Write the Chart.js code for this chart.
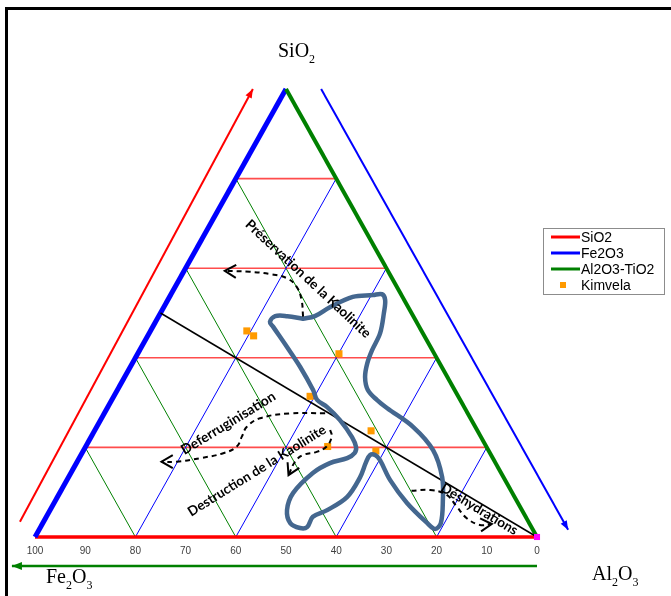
<!DOCTYPE html>
<html><head><meta charset="utf-8">
<style>html,body{margin:0;padding:0;background:#fff;overflow:hidden}</style>
<script src="https://cdn.jsdelivr.net/npm/chart.js@4.4.1/dist/chart.umd.min.js"></script>
</head><body>
<canvas id="c" width="671" height="596"></canvas>
<script>
// ---------------- DATA ----------------
const bottomTicks = [0, 10, 20, 30, 40, 50, 60, 70, 80, 90, 100];
const gridLevels = [20, 40, 60, 80];
// Kimvela samples (ternary %, SiO2 and Fe2O3; Al2O3 = remainder)
const kimvelaSiO2  = [46.0, 44.9, 40.9, 31.4, 23.7, 20.2, 19.2];
const kimvelaFe2O3 = [34.8, 34.0, 19.0, 29.5, 21.2, 31.6, 22.5];
// reference point at the Al2O3 apex
const apexSiO2 = [0];
const apexFe2O3 = [0];
// kaolinite line: from SiO2/Fe2O3 side midpoint to Al2O3 apex
const kaolLineSiO2 = [50, 0];
const kaolLineFe2O3 = [50, 0];
// envelope (closed contour)
const envelopeSiO2 = [48.7,49.3,51.3,53.6,54.0,54.2,52.9,50.0,45.5,41.7,38.8,35.7,32.8,30.6,28.8,24.6,19.4,13.4,8.3,3.1,1.8,3.1,7.6,12.7,17.2,18.3,18.3,16.7,13.2,8.9,6.0,4.5,2.2,2.0,3.1,6.0,9.8,14.3,16.5,17.6,18.8,20.1,22.3,26.1,29.0,30.6,32.8,38.0,42.4,46.9,48.0,49.3,49.3,48.7];
const envelopeFe2O3 = [22.3,19.6,15.6,9.9,5.7,3.8,3.8,5.5,8.5,12.0,14.4,16.4,17.3,16.6,15.5,12.4,11.0,12.2,14.6,17.6,19.4,20.3,22.1,22.9,22.7,23.1,24.1,25.7,28.7,33.4,38.8,42.4,44.7,46.2,47.6,46.8,43.7,37.5,33.0,29.0,26.9,26.0,25.7,26.2,27.3,28.5,28.2,28.2,28.6,29.1,29.2,27.5,25.1,22.3];
// outer axis arrows (bottom-axis value, SiO2 value)
const arrowSiO2X = [103.0, 56.6], arrowSiO2Y = [3.4, 100];
const arrowFe2O3X = [43.0, -6.2], arrowFe2O3Y = [100, 1.6];
const arrowAl2O3X = [0, 104.6], arrowAl2O3Y = [-6.5, -6.5];
// process arrows (bottom-axis value, SiO2 value)
const preservX = [46.6,46.9,47.9,49.9,53.2,57.2,62.2];
const preservY = [49.2,52.9,55.9,57.8,58.7,59.2,59.4];
const deferX = [42.2,49.2,55.2,57.8,58.8,59.8,62.5,67.1,71.8,74.8];
const deferY = [27.6,27.6,26.5,24.6,22.4,20.2,18.7,17.6,16.8,16.8];
const destrX = [41.2,40.9,41.9,43.9,46.6,48.2,49.5];
const destrY = [23.9,22.4,20.2,19.0,18.3,16.8,13.8];
const deshyX = [25.0,21.3,18.0,16.0,14.0,11.4,9.0];
const deshyY = [10.3,10.5,9.4,6.8,4.2,2.7,2.9];
const annotationTexts = ['Préservation de la Kaolinite', 'Deferruginisation', 'Destruction de la Kaolinite', 'Déshydrations'];
const legendLabels = ['SiO2', 'Fe2O3', 'Al2O3-TiO2', 'Kimvela'];

// ---------------- HELPERS ----------------
const tern = (s, f) => ({x: f + s / 2, y: s});
const ternPts = (S, F) => S.map((s, i) => tern(s, F[i]));
const xyPts = (X, Y) => X.map((x, i) => ({x, y: Y[i]}));

const RED = '#FF0000', BLUE = '#0000FF', GREEN = '#008000';
const ds = [];
function line(data, color, width, extra) {
  ds.push(Object.assign({data, showLine: true, borderColor: color, backgroundColor: color,
    borderWidth: width, pointRadius: 0, clip: false, tension: 0}, extra || {}));
}
// grid lines
gridLevels.forEach(L => {
  line([tern(L, 100 - L), tern(L, 0)], 'rgba(255,0,0,0.7)', 1.6);
  line([tern(0, L), tern(L, 0)], BLUE, 1);
  line([tern(0, L), tern(100 - L, L)], GREEN, 1);
});
// triangle edges
line([tern(0, 100), tern(0, 0)], RED, 3.5, {legendLabel: legendLabels[0]});
line([tern(0, 100), tern(100, 0)], BLUE, 5, {legendLabel: legendLabels[1]});
line([tern(100, 0), tern(0, 0)], GREEN, 4, {legendLabel: legendLabels[2]});
// kaolinite line
line(ternPts(kaolLineSiO2, kaolLineFe2O3), '#000', 1.5);
// outer arrows
line(xyPts(arrowSiO2X, arrowSiO2Y), RED, 2, {arrow: 'filled', headLen: 9, headW: 3.5});
line(xyPts(arrowFe2O3X, arrowFe2O3Y), BLUE, 2, {arrow: 'filled', headLen: 9, headW: 3.5});
line(xyPts(arrowAl2O3X, arrowAl2O3Y), GREEN, 2.5, {arrow: 'filled', headLen: 10, headW: 4});
// points
ds.push({data: ternPts(kimvelaSiO2, kimvelaFe2O3), pointStyle: 'rect', pointRadius: 5,
  backgroundColor: '#FF9A00', borderWidth: 0, clip: false, legendLabel: legendLabels[3], legendPoint: true});
ds.push({data: ternPts(apexSiO2, apexFe2O3), pointStyle: 'rect', pointRadius: 4.3,
  backgroundColor: '#FF00FF', borderWidth: 0, clip: false});
// envelope
line(ternPts(envelopeSiO2, envelopeFe2O3), '#44678F', 4.5, {tension: 0.35, borderCapStyle: 'round', borderJoinStyle: 'round'});
// dashed process arrows
[[preservX, preservY], [deferX, deferY], [destrX, destrY], [deshyX, deshyY]].forEach(([X, Y]) => {
  line(xyPts(X, Y), '#000', 2, {tension: 0.4, borderDash: [5, 4], arrow: 'open', headLen: 13, headAng: 30});
});
ds.forEach((d, i) => { d.order = ds.length - i; });

// annotation placement (centre in axis units, angle in degrees, target length px)
const annotations = [
  {x: 45.6, y: 57.6, ang: 43, len: 166},
  {x: 61.5, y: 25.4, ang: -31.3, len: 108},
  {x: 55.8, y: 14.8, ang: -31.9, len: 160},
  {x: 11.5, y: 6.2, ang: 31, len: 87}
];

function drawChem(ctx, str, x, y, size) {
  let cx = x;
  for (const ch of str) {
    const sub = /[0-9]/.test(ch);
    ctx.font = (sub ? Math.round(size * 0.62) : size) + 'px "Liberation Serif", "Times New Roman", serif';
    ctx.fillText(ch, cx, sub ? y + size * 0.28 : y);
    cx += ctx.measureText(ch).width;
  }
}

const decor = {
  id: 'decor',
  afterDatasetsDraw(chart) {
    const ctx = chart.ctx;
    chart.data.datasets.forEach((d, i) => {
      if (!d.arrow) return;
      const pts = chart.getDatasetMeta(i).data;
      const a = pts[pts.length - 1], b = pts[pts.length - 2];
      const ang = Math.atan2(a.y - b.y, a.x - b.x);
      ctx.save();
      ctx.strokeStyle = d.borderColor; ctx.fillStyle = d.borderColor;
      if (d.arrow === 'filled') {
        ctx.beginPath();
        ctx.moveTo(a.x, a.y);
        ctx.lineTo(a.x - d.headLen * Math.cos(ang) + d.headW * Math.sin(ang), a.y - d.headLen * Math.sin(ang) - d.headW * Math.cos(ang));
        ctx.lineTo(a.x - d.headLen * Math.cos(ang) - d.headW * Math.sin(ang), a.y - d.headLen * Math.sin(ang) + d.headW * Math.cos(ang));
        ctx.closePath(); ctx.fill();
      } else {
        const h = d.headAng * Math.PI / 180;
        ctx.lineWidth = 2; ctx.setLineDash([]);
        ctx.beginPath();
        ctx.moveTo(a.x - d.headLen * Math.cos(ang - h), a.y - d.headLen * Math.sin(ang - h));
        ctx.lineTo(a.x, a.y);
        ctx.lineTo(a.x - d.headLen * Math.cos(ang + h), a.y - d.headLen * Math.sin(ang + h));
        ctx.stroke();
      }
      ctx.restore();
    });
  },
  afterDraw(chart) {
    const ctx = chart.ctx, xs = chart.scales.x, ys = chart.scales.y;
    ctx.save();
    // frame
    ctx.strokeStyle = '#000'; ctx.lineWidth = 3;
    ctx.strokeRect(6.5, 8.5, 800, 800);
    // vertex labels
    ctx.fillStyle = '#000'; ctx.textBaseline = 'alphabetic'; ctx.textAlign = 'left';
    drawChem(ctx, 'SiO2', 278, 57, 20);
    drawChem(ctx, 'Fe2O3', 46, 583, 20);
    drawChem(ctx, 'Al2O3', 592, 580, 20);
    // annotations
    annotations.forEach((a, i) => {
      ctx.save();
      ctx.translate(xs.getPixelForValue(a.x), ys.getPixelForValue(a.y));
      ctx.rotate(a.ang * Math.PI / 180);
      ctx.font = 'bold 12px Lato, "Open Sans", sans-serif';
      const w = ctx.measureText(annotationTexts[i]).width;
      const size = 12 * a.len / w;
      ctx.font = 'bold ' + size.toFixed(2) + 'px Lato, "Open Sans", sans-serif';
      ctx.textAlign = 'center'; ctx.textBaseline = 'middle'; ctx.fillStyle = '#000';
      ctx.fillText(annotationTexts[i], 0, 0);
      ctx.restore();
    });
    // legend
    ctx.strokeStyle = '#8c8c8c'; ctx.lineWidth = 1;
    ctx.strokeRect(543.5, 228.5, 121, 66);
    const rowsY = [237, 253, 269, 285];
    let r = 0;
    chart.data.datasets.filter(d => d.legendLabel).sort((p, q) => legendLabels.indexOf(p.legendLabel) - legendLabels.indexOf(q.legendLabel)).forEach(d => {
      const y = rowsY[r++];
      if (d.legendPoint) {
        ctx.fillStyle = d.backgroundColor;
        ctx.fillRect(560, y - 3, 6, 6);
      } else {
        ctx.strokeStyle = d.borderColor; ctx.lineWidth = 3;
        ctx.beginPath(); ctx.moveTo(551, y); ctx.lineTo(580, y); ctx.stroke();
      }
      ctx.fillStyle = '#000'; ctx.font = '14px "Liberation Sans", Arial, sans-serif';
      ctx.textBaseline = 'middle'; ctx.textAlign = 'left';
      ctx.fillText(d.legendLabel, 581, y + 1);
    });
    ctx.restore();
  }
};

new Chart(document.getElementById('c'), {
  type: 'scatter',
  data: {datasets: ds},
  options: {
    responsive: false, animation: false, devicePixelRatio: 1, events: [],
    layout: {padding: {left: 35, right: 134, top: 89, bottom: 39}},
    plugins: {legend: {display: false}, tooltip: {enabled: false}},
    scales: {
      x: {type: 'linear', min: 0, max: 100, reverse: true,
        afterBuildTicks: s => { s.ticks = bottomTicks.map(v => ({value: v})); },
        grid: {display: false, drawTicks: false}, border: {display: false},
        ticks: {padding: 8, color: '#404040', font: {family: '"Liberation Sans", Arial, sans-serif', size: 10}},
        afterFit: s => { s.height = 20; }},
      y: {type: 'linear', display: false, min: 0, max: 100}
    }
  },
  plugins: [decor]
});
</script>
</body></html>
